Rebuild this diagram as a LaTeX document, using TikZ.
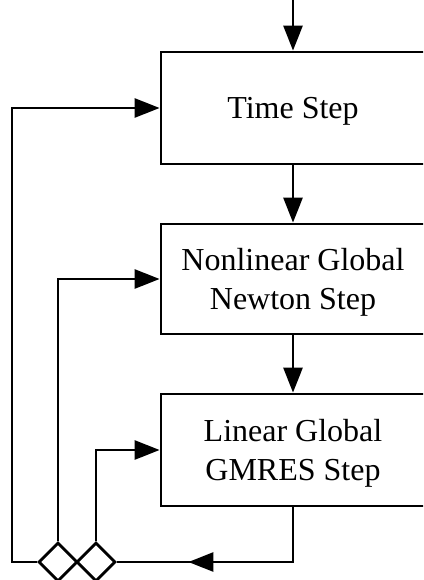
\documentclass[tikz,border=0pt]{standalone}
\usepackage{fontspec}
\setmainfont{Liberation Serif}
\usetikzlibrary{arrows.meta,shapes.geometric,decorations.markings}
\begin{document}
\begin{tikzpicture}[x=1pt,y=-1pt,
  line width=2.8pt,
  tip/.style={-{Triangle[length=25pt,width=19pt]}},
  stepbox/.style={draw, rectangle, minimum width=264pt, inner sep=0pt,
    align=center, text depth=0pt, font=\fontsize{32}{39}\selectfont},
  junction/.style={draw, diamond, minimum size=39pt, inner sep=0pt, fill=white},
  midtip/.style={postaction={decorate}, decoration={markings,
    mark=at position 0.69 with {\arrow{Triangle[length=25pt,width=19pt]}}}}]
\useasboundingbox (0,0) rectangle (423,580);
\clip (0,0) rectangle (423,580);

% the three nested steps
\node[stepbox, minimum height=112pt] (time)   at (293,108)   {Time Step};
\node[stepbox, minimum height=110pt] (newton) at (293,279)   {Nonlinear Global\\Newton Step};
\node[stepbox, minimum height=112pt] (gmres)  at (293,450)   {Linear Global\\GMRES Step};

% convergence junctions
\node[junction] (d1) at (58,562) {};
\node[junction] (d2) at (96,562) {};

\coordinate (start) at (293,-5);
\coordinate (outer) at (12,562);

% forward flow
\draw[tip] (start) -- (time.north);
\draw[tip] (time.south) -- (newton.north);
\draw[tip] (newton.south) -- (gmres.north);

% return path from the innermost step
\draw[midtip] (gmres.south) |- (d2.east);

% loops back to each level
\draw[tip] (d1.west) -- (outer) |- (time.west);
\draw[tip] (d1.north) |- (newton.west);
\draw[tip] (d2.north) |- (gmres.west);
\end{tikzpicture}
\end{document}
